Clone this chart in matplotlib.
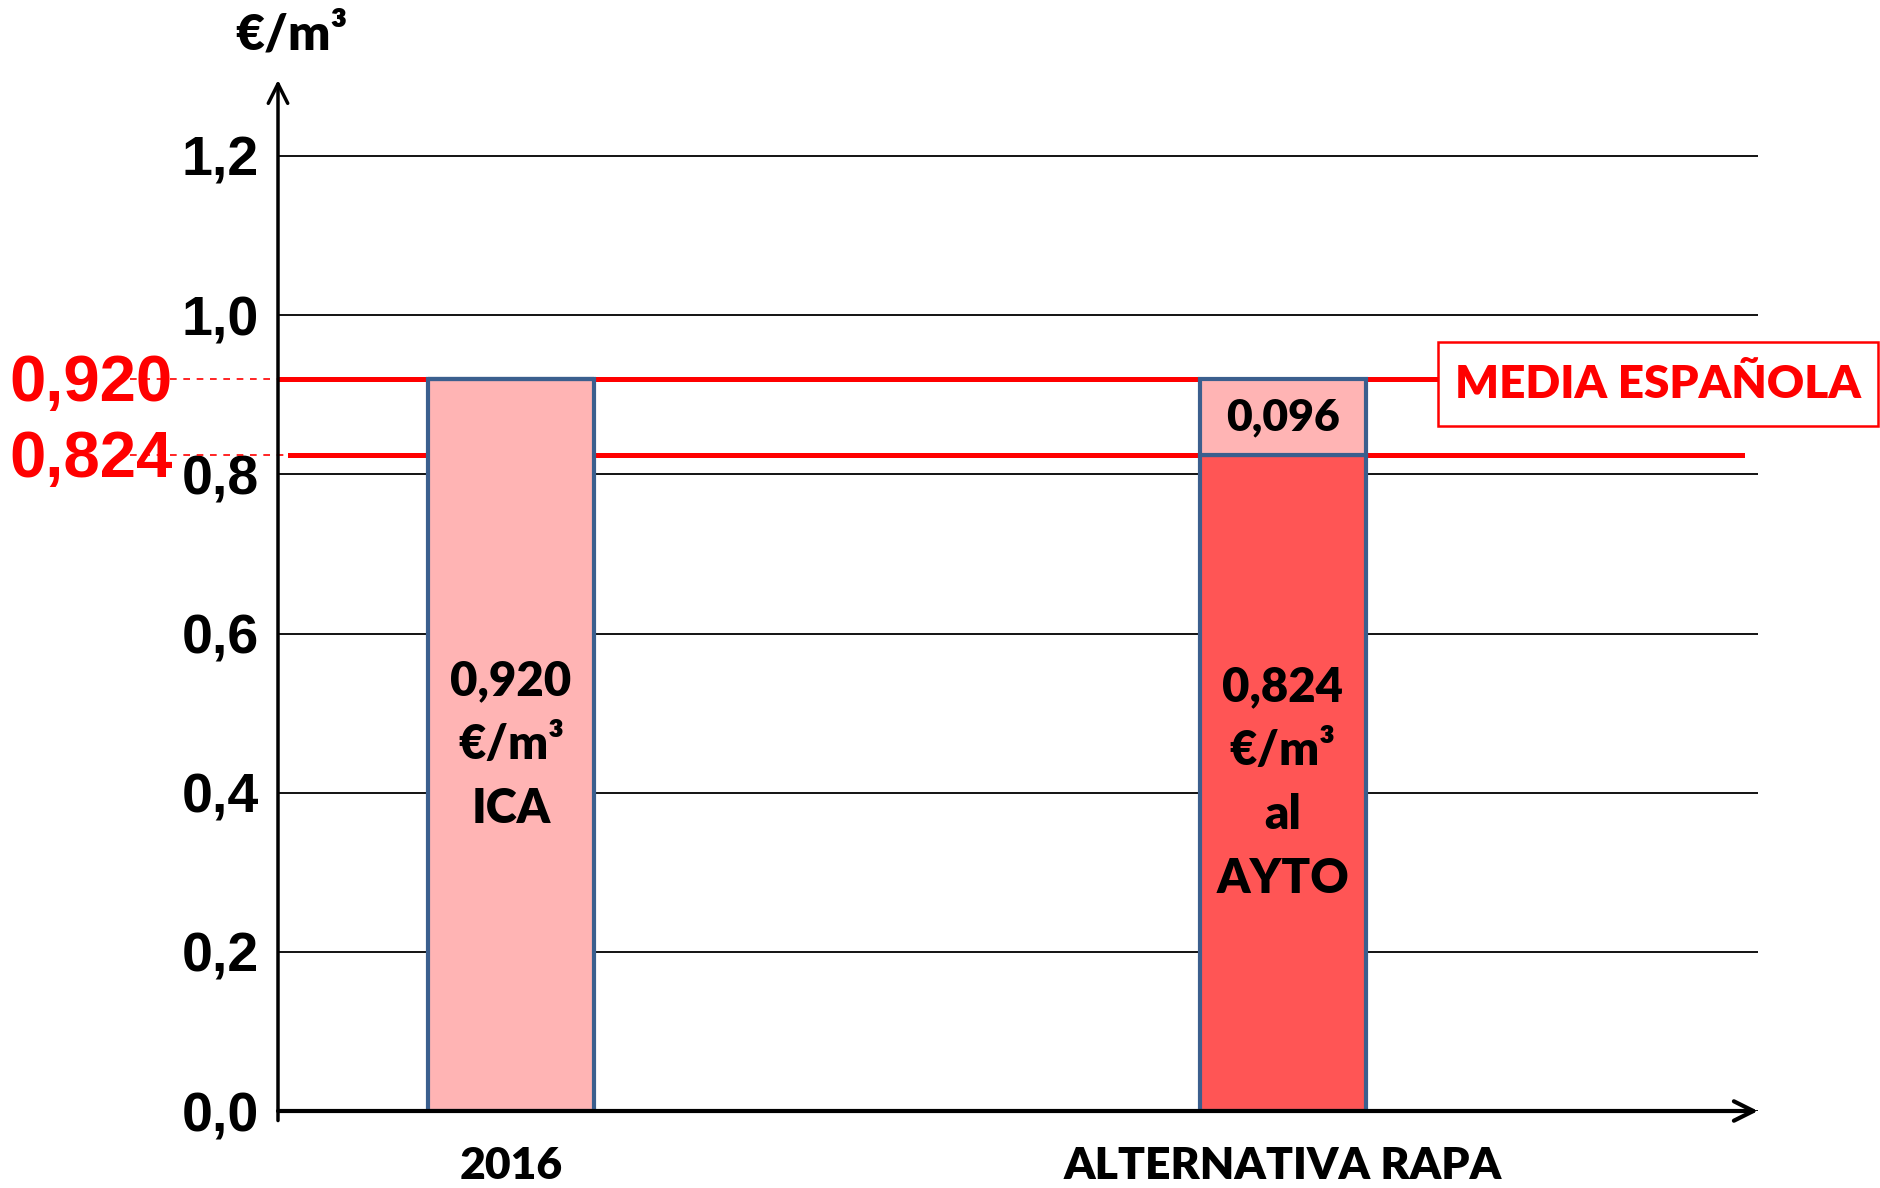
import matplotlib
matplotlib.use("Agg")
import matplotlib.pyplot as plt
import matplotlib.patches as mpatches
import numpy as np

# data
categories = ['2016', 'ALTERNATIVA RAPA']
base_values = [0.920, 0.824]      # lower segment of each bar
top_values = [0.0, 0.096]         # upper segment (only on the second bar)
bar_texts = [['0,920', '€/m³', 'ICA'], ['0,824', '€/m³', 'al', 'AYTO']]
top_text = '0,096'
ref_lines = [0.920, 0.824]
ref_labels = ['0,920', '0,824']
yticks = [0.0, 0.2, 0.4, 0.6, 0.8, 1.0, 1.2]
ytick_labels = ['0,0', '0,2', '0,4', '0,6', '0,8', '1,0', '1,2']

W, H = 1881, 1188
calibri = 'Lato'
arial = 'Liberation Sans'
cw = 'heavy'

fig = plt.figure(figsize=(W / 100, H / 100), dpi=100)
x0, x1, y0, y1 = 278, 1758, 1111, 80        # axes box in pixels
ax = fig.add_axes([x0 / W, 1 - y0 / H, (x1 - x0) / W, (y0 - y1) / H])
px_per_unit = (1111 - 156) / 1.2
ax.set_ylim(0, (y0 - y1) / px_per_unit)
ax.set_xlim(-0.302, 1.616)

for s in ax.spines.values():
    s.set_visible(False)

x = np.arange(len(categories))
width = 0.215
edge = '#3B5F8E'
ax.bar(x, base_values, width, color=['#FFB4B4', '#FF5555'], edgecolor=edge, linewidth=3, zorder=3)
ax.bar(x, top_values, width, bottom=base_values, color='#FFB4B4', edgecolor=edge, linewidth=3, zorder=3)

# grid
ax.set_yticks(yticks)
ax.set_yticklabels(ytick_labels, fontfamily=arial, fontweight='bold', fontsize=40)
ax.tick_params(axis='y', length=0, pad=14)
ax.set_xticks([])
ax.grid(axis='y', color='black', linewidth=1.3, zorder=0)
ax.set_axisbelow(True)

# axes with arrows
ymax = ax.get_ylim()[1]
xl = ax.get_xlim()
ax.annotate('', xy=(xl[0], ymax), xytext=(xl[0], -0.012),
            arrowprops=dict(arrowstyle='->', lw=2.5, color='black', mutation_scale=35,
                            shrinkA=0, shrinkB=0), annotation_clip=False, zorder=5)
ax.annotate('', xy=(xl[1], 0), xytext=(xl[0], 0),
            arrowprops=dict(arrowstyle='->', lw=3, color='black', mutation_scale=35,
                            shrinkA=0, shrinkB=0), annotation_clip=False, zorder=5)

# red reference lines
tr = ax.get_yaxis_transform()
ax.plot([0, 0.784], [ref_lines[0]] * 2, color='#FF0000', lw=3.6, transform=tr, zorder=2)
ax.plot([0.008, 0.989], [ref_lines[1]] * 2, color='#FF0000', lw=3.6, transform=tr, zorder=2)
for val, lab, xe in zip(ref_lines, ref_labels, [0.0, 0.008]):
    ax.plot([-0.1, xe], [val, val], color='#FF0000', lw=1.2, ls=(0, (4, 4)),
            transform=tr, clip_on=False, zorder=2)
    ax.annotate(lab, xy=(-0.071, val), xycoords=tr, xytext=(0, -16),
                textcoords='offset points', ha='right', va='baseline', color='#FF0000',
                fontfamily=arial, fontweight='bold', fontsize=47, annotation_clip=False)

# texts inside the bars
step = 63.6 / px_per_unit
for xi, b, lines in zip(x, base_values, bar_texts):
    c = b / 2
    n = len(lines)
    for i, t in enumerate(lines):
        yy = c + ((n - 1) / 2 - i) * step
        ax.text(xi, yy, t, ha='center', va='center', fontfamily=calibri,
                fontweight=cw, fontsize=34, zorder=4)
ax.text(x[1], base_values[1] + top_values[1] / 2, top_text, ha='center', va='center',
        fontfamily=calibri, fontweight=cw, fontsize=32, zorder=4)

# category labels
for xi, cat in zip(x, categories):
    ax.text(xi, (y0 - 1166) / (y0 - y1), cat, transform=ax.get_xaxis_transform(),
            ha='center', va='center', fontfamily=calibri, fontweight=cw, fontsize=32)

# unit label
fig.text(291 / W, 1 - 35 / H, '€/m³', ha='center', va='center', fontfamily=calibri,
         fontweight=cw, fontsize=36)

# legend box
fig.patches.append(mpatches.Rectangle((1438 / W, 1 - 426 / H), 440 / W, 84 / H,
                                      transform=fig.transFigure, facecolor='white',
                                      edgecolor='#FF0000', linewidth=1.8))
fig.text(1658 / W, 1 - 384 / H, 'MEDIA ESPAÑOLA', ha='center', va='center', color='#FF0000',
         fontfamily=calibri, fontweight=cw, fontsize=33)

fig.savefig('out.png', dpi=100)
